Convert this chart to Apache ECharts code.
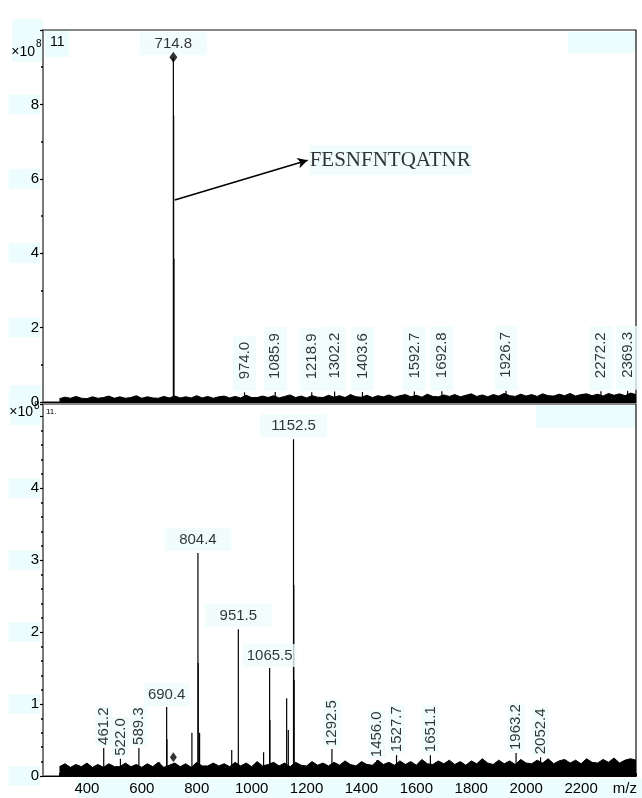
<!DOCTYPE html>
<html><head><meta charset="utf-8">
<script src="https://cdn.jsdelivr.net/npm/echarts@6/dist/echarts.min.js"></script>
<style>html,body{margin:0;padding:0;background:#fff}#c{width:642px;height:798px}</style>
</head><body><div id="c"></div>
<script>
// ---------------- data (intensities in units of 1e8) ----------------
const xTickLabels = [400, 600, 800, 1000, 1200, 1400, 1600, 1800, 2000, 2200];
const xTickMarks = [300, 400, 500, 600, 700, 800, 900, 1000, 1100, 1200, 1300, 1400, 1500, 1600, 1700, 1800, 1900, 2000, 2100, 2200, 2300, 2400];
const topYLabels = [0, 2, 4, 6, 8];
const bottomYLabels = [0, 1, 2, 3, 4];

// top spectrum
const topPeakMz  = [714.8, 715.8, 716.8, 974.0, 1085.9, 1218.9, 1302.2, 1403.6, 1592.7, 1692.8, 1926.7, 2272.2, 2369.3];
const topPeakInt = [9.27, 7.7, 3.85, 0.26, 0.27, 0.26, 0.28, 0.27, 0.28, 0.29, 0.30, 0.29, 0.30];
const topHLabelMz = [714.8];
const topVLabelMz = [974.0, 1085.9, 1218.9, 1302.2, 1403.6, 1592.7, 1692.8, 1926.7, 2272.2, 2369.3];

// bottom spectrum
const bottomPeakMz  = [461.2, 522.0, 589.3, 665.0, 690.4, 691.4, 782.4, 804.4, 805.4, 810.4, 927.4, 951.5, 1043.5, 1065.5, 1066.5, 1127.5, 1133.5, 1152.5, 1153.5, 1154.5, 1292.5, 1456.0, 1527.7, 1651.1, 1963.2, 2052.4];
const bottomPeakInt = [0.39, 0.24, 0.39, 0.19, 0.96, 0.51, 0.60, 3.10, 1.57, 0.60, 0.36, 2.04, 0.33, 1.50, 0.78, 1.08, 0.64, 4.68, 2.65, 1.33, 0.375, 0.22, 0.29, 0.29, 0.32, 0.26];
const bottomHLabelWide  = [804.4, 951.5, 1152.5];
const bottomHLabelTight = [690.4, 1065.5];
const bottomVLabelMz = [461.2, 522.0, 589.3, 1292.5, 1456.0, 1527.7, 1651.1, 1963.2, 2052.4];

// precursor marker
const precursorMz = 714.8;
const topPrecursorInt = 9.27;
const bottomPrecursorInt = 0.26;

// baseline noise, sampled from m/z 300 every 20
const noiseStart = 300, noiseStep = 20;
const topNoise = [
0.09,0.13,0.10,0.15,0.10,0.09,0.14,0.10,0.12,0.16,
0.10,0.14,0.10,0.12,0.17,0.10,0.14,0.11,0.10,0.15,
0.11,0.16,0.11,0.14,0.11,0.17,0.11,0.15,0.10,0.14,
0.16,0.11,0.15,0.11,0.18,0.12,0.12,0.16,0.12,0.17,
0.11,0.15,0.19,0.12,0.16,0.11,0.17,0.13,0.12,0.18,
0.13,0.17,0.12,0.20,0.14,0.13,0.18,0.12,0.17,0.14,
0.19,0.13,0.17,0.20,0.14,0.18,0.13,0.21,0.15,0.14,
0.19,0.15,0.20,0.14,0.18,0.22,0.15,0.19,0.14,0.20,
0.16,0.23,0.17,0.15,0.21,0.16,0.20,0.15,0.22,0.17,
0.16,0.21,0.17,0.23,0.16,0.20,0.22,0.17,0.21,0.16,
0.23,0.18,0.22,0.17,0.24,0.20];
const bottomNoise = [
0.13,0.17,0.12,0.16,0.13,0.18,0.12,0.16,0.12,0.17,
0.13,0.13,0.18,0.13,0.16,0.12,0.17,0.13,0.19,0.12,
0.15,0.18,0.13,0.17,0.12,0.19,0.14,0.14,0.18,0.14,
0.17,0.13,0.19,0.14,0.18,0.13,0.20,0.14,0.16,0.19,
0.14,0.18,0.13,0.19,0.15,0.14,0.20,0.15,0.18,0.14,
0.19,0.15,0.21,0.16,0.14,0.20,0.16,0.15,0.22,0.16,
0.19,0.15,0.21,0.16,0.20,0.15,0.23,0.17,0.16,0.21,
0.17,0.22,0.16,0.20,0.15,0.21,0.17,0.24,0.18,0.16,
0.22,0.17,0.21,0.16,0.23,0.18,0.17,0.22,0.18,0.24,
0.17,0.21,0.23,0.18,0.22,0.17,0.24,0.19,0.18,0.23,
0.19,0.25,0.18,0.22,0.24,0.22];

// annotation
const annotationText = 'FESNFNTQATNR';
const arrowFrom = [720, 5.43];
const arrowTo = [1204, 6.5];

// ---------------- chart ----------------
const CYAN = '#edfdfd';
const SANS = '"Liberation Sans", Arial, Helvetica, sans-serif';
const zip = (a, b) => a.map((v, i) => [v, b[i]]);
const noiseData = arr => arr.map((v, i) => [noiseStart + noiseStep * i, v]);
const lookup = (mzs, ints) => m => ints[mzs.indexOf(m)];
const topInt = lookup(topPeakMz, topPeakInt);
const botInt = lookup(bottomPeakMz, bottomPeakInt);

function sticks(g, data) {
  return {
    type: 'custom', xAxisIndex: g, yAxisIndex: g, data: data, silent: true, z: 3,
    encode: { x: 0, y: 1 },
    renderItem: (params, api) => {
      const a = api.coord([api.value(0), 0]);
      const b = api.coord([api.value(0), api.value(1)]);
      return { type: 'line', shape: { x1: a[0], y1: a[1], x2: b[0], y2: b[1] },
               style: { stroke: '#000', lineWidth: 1.2 } };
    }
  };
}
function noise(g, arr) {
  return { type: 'line', xAxisIndex: g, yAxisIndex: g, data: noiseData(arr), symbol: 'none', silent: true, z: 2,
           lineStyle: { color: '#000', width: 1 }, areaStyle: { color: '#000', opacity: 1 } };
}
function labels(g, mzs, intOf, lab) {
  return { type: 'scatter', xAxisIndex: g, yAxisIndex: g, symbolSize: 0, silent: true, z: 5,
           data: mzs.map(m => [m, intOf(m)]),
           label: Object.assign({ show: true, color: '#000', fontFamily: SANS, fontSize: 15,
                                  backgroundColor: CYAN, formatter: p => p.value[0].toFixed(1) }, lab) };
}
const hLabWide  = { position: 'top', distance: 2, width: 67, align: 'center', lineHeight: 18, padding: [3, 0, 2, 0] };
const hLabTight = { position: 'top', distance: 1, align: 'center', lineHeight: 18, padding: [3, 4, 2, 4] };
const vLabTop   = { position: 'top', distance: 1, rotate: 90, align: 'left', verticalAlign: 'middle', lineHeight: 17, padding: [3, 6, 3, 12] };
const vLabBot   = { position: 'top', distance: 2, rotate: 90, align: 'left', verticalAlign: 'middle', lineHeight: 17, padding: [0, 1, 0, 1] };

function yAxis(g, max, interval, minorSplit, shownLabels) {
  return {
    type: 'value', gridIndex: g, min: 0, max: max, interval: interval,
    axisLine: { show: true, lineStyle: { color: '#7a7a7a', width: 2 } },
    axisTick: { show: true, inside: false, length: 3, lineStyle: { color: '#000', width: 1.2 } },
    minorTick: { show: true, splitNumber: minorSplit, length: 2, lineStyle: { color: '#000', width: 1.5 } },
    splitLine: { show: false }, minorSplitLine: { show: false },
    axisLabel: { show: true, customValues: shownLabels, formatter: v => String(v), margin: 3, color: '#000', fontFamily: SANS, fontSize: 15,
                 lineHeight: 16, backgroundColor: CYAN, padding: [2, 1, 2, 22] }
  };
}
function xAxis(g, showLabels) {
  return {
    type: 'value', gridIndex: g, min: 240, max: 2400,
    axisLine: { show: true, onZero: false, lineStyle: { color: '#000', width: 1.2 } },
    axisTick: { show: showLabels, inside: true, length: 3, customValues: xTickMarks, lineStyle: { color: '#000' } },
    splitLine: { show: false },
    axisLabel: { show: showLabels, customValues: xTickLabels, formatter: v => String(v), margin: 5, color: '#000', fontFamily: SANS, fontSize: 15 }
  };
}

const option = {
  animation: false,
  backgroundColor: '#fff',
  grid: [
    { left: 43, right: 6, top: 30, height: 372, show: true, borderColor: '#111', borderWidth: 1.2, backgroundColor: 'transparent' },
    { left: 43, right: 6, top: 404, height: 372, show: true, borderColor: '#111', borderWidth: 1.2, backgroundColor: 'transparent' }
  ],
  xAxis: [xAxis(0, false), xAxis(1, true)],
  yAxis: [yAxis(0, 10, 2, 2, topYLabels), yAxis(1, 5.17, 1, 5, bottomYLabels)],
  graphic: [
    { type: 'rect', z: -5, shape: { x: 77, y: 779, width: 565, height: 19 }, style: { fill: CYAN } },
    { type: 'rect', z: -5, shape: { x: 568, y: 32, width: 68, height: 21 }, style: { fill: CYAN } },
    { type: 'rect', z: -5, shape: { x: 536, y: 405, width: 100, height: 23 }, style: { fill: CYAN } },
    { type: 'rect', z: -5, shape: { x: 12, y: 19, width: 31, height: 43 }, style: { fill: CYAN } },
    { type: 'rect', z: -5, shape: { x: 45, y: 30, width: 24, height: 27 }, style: { fill: CYAN } },
    { type: 'rect', z: -5, shape: { x: 10, y: 385, width: 31, height: 40 }, style: { fill: CYAN } },
    { type: 'text', z: 10, x: 35, y: 52, style: { text: '×10', fill: '#000', font: '14px ' + SANS, textAlign: 'right', textVerticalAlign: 'middle' } },
    { type: 'text', z: 10, x: 36, y: 44, style: { text: '8', fill: '#000', font: '10px ' + SANS, textAlign: 'left', textVerticalAlign: 'middle' } },
    { type: 'text', z: 10, x: 50, y: 42, style: { text: '11', fill: '#000', font: '14px ' + SANS, textAlign: 'left', textVerticalAlign: 'middle' } },
    { type: 'text', z: 10, x: 33, y: 412, style: { text: '×10', fill: '#000', font: '14px ' + SANS, textAlign: 'right', textVerticalAlign: 'middle' } },
    { type: 'text', z: 10, x: 34, y: 406, style: { text: '8', fill: '#000', font: '10px ' + SANS, textAlign: 'left', textVerticalAlign: 'middle' } },
    { type: 'text', z: 10, x: 46, y: 412, style: { text: '11.', fill: '#000', font: '8px ' + SANS, textAlign: 'left', textVerticalAlign: 'middle' } },
    { type: 'text', z: 10, x: 637, y: 789, style: { text: 'm/z', fill: '#000', font: '15px ' + SANS, textAlign: 'right', textVerticalAlign: 'middle' } }
  ],
  series: [
    noise(0, topNoise),
    sticks(0, zip(topPeakMz, topPeakInt)),
    labels(0, topHLabelMz, topInt, hLabWide),
    labels(0, topVLabelMz, topInt, vLabTop),
    { type: 'scatter', xAxisIndex: 0, yAxisIndex: 0, symbol: 'diamond', symbolSize: [8, 11], silent: true, z: 6,
      itemStyle: { color: '#000' }, data: [[precursorMz, topPrecursorInt]] },
    { type: 'scatter', xAxisIndex: 0, yAxisIndex: 0, symbolSize: 0, silent: true, z: 6,
      data: [arrowTo],
      label: { show: true, position: 'right', distance: 1, formatter: annotationText, color: '#000',
               fontFamily: '"Liberation Serif", "Times New Roman", serif', fontSize: 21, lineHeight: 20,
               backgroundColor: CYAN, padding: [5, 1, 5, 1] },
      markLine: { silent: true, symbol: ['none', 'arrow'], symbolSize: [8, 10], animation: false,
                  lineStyle: { color: '#000', width: 1.6, type: 'solid' }, label: { show: false },
                  data: [[{ coord: arrowFrom }, { coord: arrowTo }]] } },

    noise(1, bottomNoise),
    sticks(1, zip(bottomPeakMz, bottomPeakInt)),
    labels(1, bottomHLabelWide, botInt, hLabWide),
    labels(1, bottomHLabelTight, botInt, hLabTight),
    labels(1, bottomVLabelMz, botInt, vLabBot),
    { type: 'scatter', xAxisIndex: 1, yAxisIndex: 1, symbol: 'diamond', symbolSize: [7, 10], silent: true, z: 6,
      itemStyle: { color: '#000' }, data: [[precursorMz, bottomPrecursorInt]] }
  ]
};
const chart = echarts.init(document.getElementById('c'), null, { renderer: 'canvas' });
chart.setOption(option);
</script>
</body></html>
